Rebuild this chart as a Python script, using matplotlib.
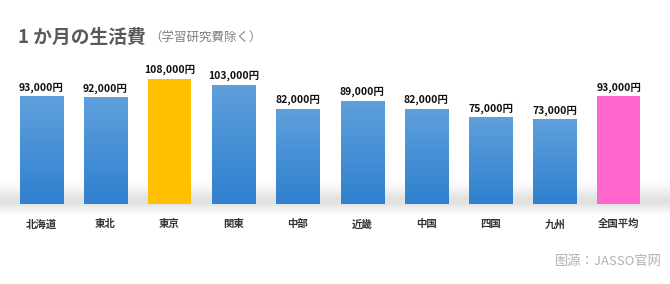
import numpy as np
import matplotlib
matplotlib.use('Agg')
import matplotlib.pyplot as plt
from matplotlib.colors import LinearSegmentedColormap

plt.rcParams['font.family'] = ['Noto Sans CJK JP', 'DejaVu Sans']

# data
regions = ['北海道', '東北', '東京', '関東', '中部', '近畿', '中国', '四国', '九州', '全国平均']
costs = [93000, 92000, 108000, 103000, 82000, 89000, 82000, 75000, 73000, 93000]
labels = ['{:,}円'.format(v) for v in costs]

fig = plt.figure(figsize=(6.7, 2.84), dpi=100)

# soft background with a light grey "floor" band under the bars
bg = fig.add_axes([0, 0, 1, 1], zorder=0)
yy = np.linspace(0, 1, 284)[:, None]
d = yy - 0.29
floor = np.where(d > 0, np.exp(-(d / 0.045) ** 2), np.exp(-(d / 0.03) ** 2)) * 0.12
shade = 1.0 - floor
bg.imshow(np.repeat(shade, 2, axis=1), cmap='gray', vmin=0, vmax=1, aspect='auto',
          extent=[0, 1, 0, 1], origin='lower')
bg.set_xlim(0, 1)
bg.set_ylim(0, 1)
bg.axis('off')

ax = fig.add_axes([9 / 670, 80 / 284, 642 / 670, 145 / 284], zorder=1)
ax.patch.set_alpha(0)

x = np.arange(len(regions))
bars = ax.bar(x, costs, width=0.67, color='none', edgecolor='none')

blue = LinearSegmentedColormap.from_list('b', ['#2f80cf', '#5fa0dc'])
grad = np.linspace(0, 1, 100)[:, None]
for i, b in enumerate(bars):
    if regions[i] == '東京':
        b.set_facecolor('#ffc000')
        continue
    if regions[i] == '全国平均':
        b.set_facecolor('#ff66cc')
        continue
    bx = b.get_x()
    im = ax.imshow(grad, cmap=blue, aspect='auto', origin='lower',
                   extent=[bx, bx + b.get_width(), 0, b.get_height()], zorder=2)
    im.set_clip_path(b)

for xi, v, lab in zip(x, costs, labels):
    ax.text(xi, v + 3000, lab, ha='center', va='bottom', fontsize=7.5,
            fontweight='bold', color='#111111')

ax.set_xlim(-0.5, len(regions) - 0.5)
ax.set_ylim(0, 125000)
ax.set_xticks(x)
ax.set_xticklabels(regions, fontsize=7.5, fontweight='bold', color='#333333')
ax.tick_params(axis='x', length=0, pad=11)
ax.set_yticks([])
for s in ax.spines.values():
    s.set_visible(False)

fig.text(18 / 670, 1 - 37 / 284, '1 か月の生活費', fontsize=13.5, fontweight='bold',
         color='#595959', va='center', ha='left')
fig.text(149 / 670, 1 - 38 / 284, '（学習研究費除く）', fontsize=9,
         color='#7f7f7f', va='center', ha='left')
fig.text(662 / 670, 1 - 262 / 284, '图源：JASSO官网', fontsize=9.5,
         color='#b0b0b0', va='center', ha='right')

fig.savefig('out.png', dpi=100)
